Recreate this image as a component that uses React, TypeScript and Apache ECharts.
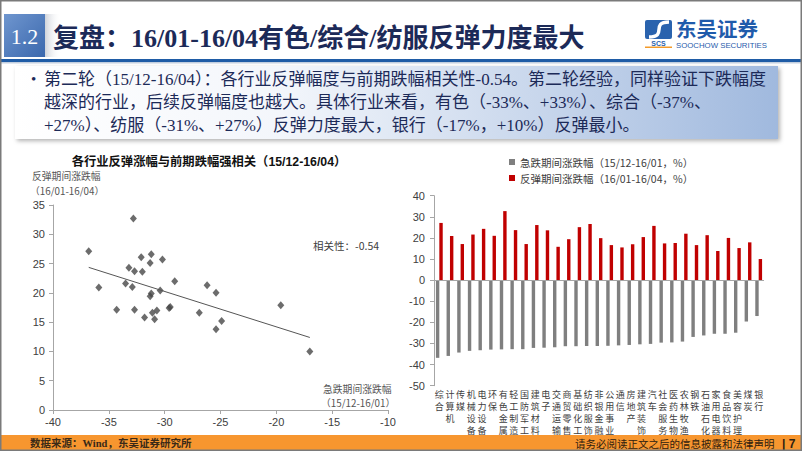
import React, { useEffect, useRef } from "react";
import * as echarts from "echarts";

const categories = ["综合","计算机","传媒","机械设备","电力设备","环保","有色金属","轻工制造","国防军工","建筑材料","电子","交通运输","商贸零售","基础化工","纺织服饰","非银金融","公用事业","通信","房地产","建筑装饰","汽车","社会服务","医药生物","农林牧渔","钢铁","石油石化","家用电器","食品饮料","美容护理","煤炭","银行"];
const dropValues = [-36.8,-35.9,-34.3,-33.5,-33.2,-32.9,-32.8,-32.7,-32.7,-32.1,-32.0,-31.8,-31.3,-31.3,-31.2,-31.2,-31.1,-30.9,-30.7,-30.4,-30.2,-29.6,-29.5,-29.1,-26.9,-26.2,-25.4,-25.4,-24.9,-19.6,-17.0];
const reboundValues = [27.1,20.9,17.1,21.6,24.3,21.0,32.7,23.7,17.1,26.1,23.6,15.8,19.4,25.1,26.6,19.9,16.6,15.5,17.0,20.4,25.7,17.4,17.6,22.0,16.6,21.3,13.8,20.0,15.2,17.9,10.0];
const scatterXTicks = { min: -40, max: -10, interval: 5 };
const scatterYTicks = { min: 0, max: 35, interval: 5 };
const barYTicks = { min: -50, max: 40, interval: 10 };
const legendNames = ["急跌期间涨跌幅（15/12-16/01，%）", "反弹期间涨跌幅（16/01-16/04，%）"];

const titleText = "复盘：16/01-16/04有色/综合/纺服反弹力度最大";
const bodyLines = [
  "第二轮（15/12-16/04）：各行业反弹幅度与前期跌幅相关性-0.54。第二轮经验，同样验证下跌幅度",
  "越深的行业，后续反弹幅度也越大。具体行业来看，有色（-33%、+33%）、综合（-37%、",
  "+27%）、纺服（-31%、+27%）反弹力度最大，银行（-17%，+10%）反弹最小。",
];

const CJK = "'Noto Sans CJK SC', sans-serif";
const SERIF = "'Liberation Serif', 'Times New Roman', 'Noto Sans CJK SC', serif";
const SANS = "'Liberation Sans', Arial, 'Noto Sans CJK SC', sans-serif";

function regression(xs: number[], ys: number[]) {
  const n = xs.length;
  const mx = xs.reduce((a, b) => a + b, 0) / n;
  const my = ys.reduce((a, b) => a + b, 0) / n;
  let sxy = 0, sxx = 0;
  for (let i = 0; i < n; i++) { sxy += (xs[i] - mx) * (ys[i] - my); sxx += (xs[i] - mx) ** 2; }
  const k = sxy / sxx;
  const b = my - k * mx;
  const x0 = Math.min(...xs), x1 = Math.max(...xs);
  return [[x0, k * x0 + b], [x1, k * x1 + b]];
}

function txt(text: string, x: number, y: number, size: number, opts: any = {}) {
  return {
    type: "text", x, y, z: opts.z ?? 10,
    style: {
      text, fontSize: size, fontFamily: opts.family ?? CJK, fontWeight: opts.weight ?? "normal",
      fill: opts.color ?? "#404040",
      textAlign: opts.align ?? "left", align: opts.align ?? "left",
      textVerticalAlign: "middle", verticalAlign: "middle",
    },
  };
}

export default function App() {
  const ref = useRef<HTMLDivElement>(null);
  useEffect(() => {
    if (!ref.current) return;
    const chart = echarts.init(ref.current, undefined, { renderer: "svg" });
    const axisGray = "#a6a6a6";
    const labelColor = "#404040";
    const trend = regression(dropValues, reboundValues);

    const graphic: any[] = [
      // title box
      { type: "rect", z: 5, shape: { x: 4, y: 14, width: 41, height: 43 },
        style: { fill: new echarts.graphic.LinearGradient(0, 0, 1, 1, [{ offset: 0, color: "#6f96cf" }, { offset: 1, color: "#3b68ad" }]) } },
      { type: "rect", z: 4, shape: { x: 45, y: 14, width: 16, height: 43 },
        style: { fill: new echarts.graphic.LinearGradient(0, 0, 1, 0, [{ offset: 0, color: "rgba(120,130,150,0.35)" }, { offset: 1, color: "rgba(255,255,255,0)" }]) } },
      txt("1.2", 24.5, 36, 22, { family: SERIF, color: "#ffffff", align: "center" }),
      txt(titleText, 53, 38, 26, { family: SERIF, weight: "bold", color: "#1c2a58" }),
      // blue rule
      { type: "rect", z: 5, shape: { x: 0, y: 59, width: 802, height: 3 }, style: { fill: "#1f5ca6" } },
      { type: "rect", z: 5, shape: { x: 0, y: 62, width: 802, height: 1.5 }, style: { fill: "#c3cfdf" } },
      // logo
      { type: "rect", z: 5, shape: { x: 645, y: 20, width: 27, height: 19, r: 2 }, style: { fill: "#2a63ae" } },
      { type: "bezierCurve", z: 6, shape: { x1: 669, y1: 22, x2: 649, y2: 37, cpx1: 650, cpy1: 22, cpx2: 668, cpy2: 37 },
        style: { stroke: "#ffffff", lineWidth: 3.5, fill: "none" } },
      txt("SCS", 658.5, 43.5, 7, { family: SANS, weight: "bold", color: "#2a63ae", align: "center" }),
      { type: "rect", z: 5, shape: { x: 645, y: 46.5, width: 27, height: 1.5 }, style: { fill: "#f39a2a" } },
      txt("东吴证券", 676, 27.5, 20.5, { weight: "bold", color: "#1f5bab" }),
      txt("SOOCHOW SECURITIES", 676, 45.5, 7.8, { family: SANS, color: "#1f5bab" }),
      // text box
      { type: "rect", z: 5, shape: { x: 15, y: 66, width: 763, height: 73 },
        style: { fill: new echarts.graphic.LinearGradient(0, 0, 1, 0, [
          { offset: 0, color: "#ffffff" }, { offset: 0.35, color: "#f3f6fb" }, { offset: 1, color: "#a0b9de" }]),
          shadowBlur: 4, shadowOffsetX: 2, shadowOffsetY: 2, shadowColor: "rgba(0,0,0,0.3)" } },
      txt("•", 31, 79, 15, { family: SERIF, color: "#1c2a58" }),
      txt(bodyLines[0], 44, 79, 17, { family: SERIF, color: "#1c2a58" }),
      txt(bodyLines[1], 44, 102, 17, { family: SERIF, color: "#1c2a58" }),
      txt(bodyLines[2], 44, 125, 17, { family: SERIF, color: "#1c2a58" }),
      // left chart texts
      txt("各行业反弹涨幅与前期跌幅强相关（15/12-16/04）", 209, 162, 12.3, { family: SANS, weight: "bold", color: "#111", align: "center" }),
      txt("反弹期间涨跌幅", 32, 176, 9.8, { color: "#555" }),
      txt("（16/01-16/04）", 30, 190.5, 9.8, { color: "#555" }),
      txt("相关性：-0.54", 313, 245, 10.5, { color: "#404040" }),
      txt("急跌期间涨跌幅", 323, 388.5, 9.8, { color: "#555" }),
      txt("（15/12-16/01）", 321, 403, 9.8, { color: "#555" }),
      // footer
      { type: "rect", z: 5, shape: { x: 0, y: 435, width: 802, height: 16 }, style: { fill: "#f7962f" } },
      txt("数据来源：Wind，东吴证券研究所", 30, 443.5, 10.5, { family: SERIF, weight: "bold", color: "#3a2a18" }),
      txt("请务必阅读正文之后的信息披露和法律声明", 575, 443.5, 10.5, { color: "#2e2010" }),
      txt("| 7", 782, 443.5, 12, { family: SANS, weight: "bold", color: "#2e2010" }),
      // frame
      { type: "rect", z: 50, shape: { x: 0.75, y: 0.75, width: 800.5, height: 449.5 },
        style: { fill: "none", stroke: "#7a7a7a", lineWidth: 1.5 } },
    ];

    const option: any = {
      animation: false,
      backgroundColor: "#ffffff",
      textStyle: { fontFamily: SANS },
      grid: [
        { left: 53, top: 205, width: 335, height: 205 },
        { left: 434, top: 195.7, width: 330, height: 190 },
      ],
      legend: {
        data: legendNames, orient: "vertical", left: 509, top: 156, itemWidth: 6, itemHeight: 6, itemGap: 4,
        icon: "rect", padding: 0,
        textStyle: { fontSize: 10.5, fontFamily: CJK, color: labelColor, lineHeight: 12 },
      },
      xAxis: [
        { gridIndex: 0, type: "value", ...scatterXTicks,
          axisLine: { show: true, onZero: false, lineStyle: { color: axisGray } },
          axisTick: { show: true, length: 4, lineStyle: { color: axisGray } },
          axisLabel: { color: labelColor, fontSize: 11, margin: 6 }, splitLine: { show: false } },
        { gridIndex: 1, type: "category", data: categories,
          axisLine: { show: false }, axisTick: { show: false },
          axisLabel: { interval: 0, formatter: (v: string) => v.split("").join("\n"), fontSize: 9, lineHeight: 12,
            color: labelColor, margin: 3, fontFamily: CJK } },
      ],
      yAxis: [
        { gridIndex: 0, type: "value", ...scatterYTicks,
          axisLine: { show: true, lineStyle: { color: axisGray } },
          axisTick: { show: true, length: 4, lineStyle: { color: axisGray } },
          axisLabel: { color: labelColor, fontSize: 11, margin: 8 }, splitLine: { show: false } },
        { gridIndex: 1, type: "value", ...barYTicks,
          axisLine: { show: true, lineStyle: { color: axisGray } },
          axisTick: { show: true, length: 4, lineStyle: { color: axisGray } },
          axisLabel: { color: labelColor, fontSize: 11, margin: 9 }, splitLine: { show: false } },
      ],
      series: [
        { type: "scatter", xAxisIndex: 0, yAxisIndex: 0, symbol: "diamond", symbolSize: [7, 8],
          data: dropValues.map((x, i) => [x, reboundValues[i]]), itemStyle: { color: "#474747" } },
        { type: "line", xAxisIndex: 0, yAxisIndex: 0, data: trend, symbol: "none",
          lineStyle: { color: "#555555", width: 1 } },
        { name: legendNames[0], type: "bar", xAxisIndex: 1, yAxisIndex: 1, data: dropValues,
          barWidth: "32%", barGap: "0%", itemStyle: { color: "#7f7f7f" },
          markLine: { silent: true, symbol: "none", label: { show: false },
            lineStyle: { color: axisGray, type: "solid", width: 1 }, data: [{ yAxis: 0 }] } },
        { name: legendNames[1], type: "bar", xAxisIndex: 1, yAxisIndex: 1, data: reboundValues,
          barWidth: "32%", barGap: "0%", itemStyle: { color: "#c00000" } },
      ],
      graphic,
    };
    chart.setOption(option);
    return () => chart.dispose();
  }, []);
  return <div ref={ref} style={{ position: "fixed", left: 0, top: 0, width: 802, height: 451 }} />;
}
